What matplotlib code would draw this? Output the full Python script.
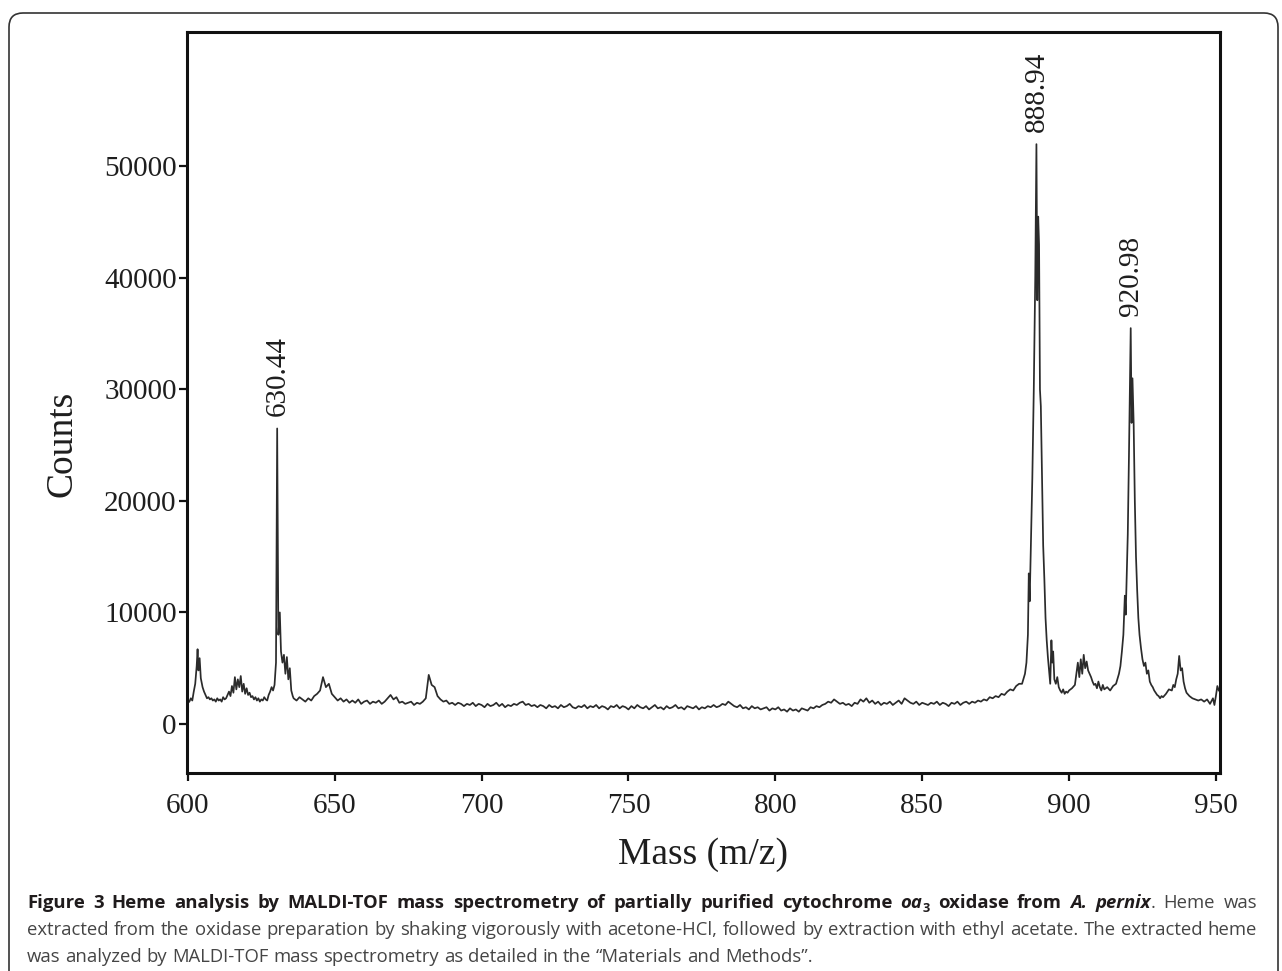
import numpy as np
import matplotlib
matplotlib.use("Agg")
import matplotlib.pyplot as plt
from matplotlib.patches import FancyBboxPatch
from matplotlib.transforms import IdentityTransform

# spectrum, 600 - 636 (peaks at 603, 617, 630.44)
mass_a = [600.0, 600.5, 601.0, 601.5, 602.0, 602.5, 603.0, 603.3, 603.6, 604.0, 604.4,
          605.0, 605.5, 606.0, 606.5, 607.0, 607.5, 608.0, 608.5, 609.0, 609.5,
          610.0, 610.5, 611.0, 611.5, 612.0, 612.5, 613.0, 613.5, 614.0, 614.5,
          615.0, 615.5, 616.0, 616.5, 617.0, 617.5, 618.0, 618.5, 619.0, 619.5,
          620.0, 620.5, 621.0, 621.5, 622.0, 622.5, 623.0, 623.5, 624.0, 624.5,
          625.0, 625.5, 626.0, 626.5, 627.0, 627.5, 628.0, 628.5, 629.0, 629.5,
          630.0, 630.4, 630.8, 631.3, 631.7, 632.2, 632.7, 633.2, 633.7, 634.2,
          634.7, 635.2, 635.7]
counts_a = [1900, 2000, 2300, 2100, 2900, 3600, 5200, 6700, 4800, 5900, 4100,
            3300, 2900, 2600, 2300, 2400, 2200, 2300, 2100, 2200, 2000,
            2300, 2100, 2200, 2000, 2400, 2200, 2300, 2600, 2900, 2500,
            3400, 2800, 4200, 3100, 4000, 3300, 4300, 2900, 3600, 2700,
            3200, 2600, 2800, 2400, 2500, 2200, 2400, 2100, 2300, 2000,
            2200, 2100, 2400, 2200, 2100, 2600, 2900, 3300, 3000, 3500,
            5500, 26500, 8000, 10000, 6500, 5500, 6200, 4500, 6000, 4000,
            5000, 3000, 2500]

# baseline region, one reading per m/z unit from 636 to 883
mass_b = np.arange(636, 884)
counts_b = [2300, 2100, 2400, 2200, 2000, 2300, 2100, 2500, 2700, 3000,
            4200, 3300, 3600, 2700, 2400, 2100, 2300, 2000, 2200, 1900,
            2100, 1900, 2200, 1800, 2000, 2100, 1800, 2000, 1900, 2100,
            1800, 2000, 2300, 2600, 2200, 2400, 1900, 2000, 1800, 1900,
            2000, 1700, 1900, 1800, 2000, 2300, 4400, 3500, 3300, 2500,
            2200, 2000, 2100, 1800, 1900, 1700, 1900, 1800, 1600, 1800,
            1700, 1900, 1600, 1800, 1700, 1500, 1800, 1600, 1700, 1900,
            1600, 1800, 1500, 1700, 1600, 1800, 1700, 1900, 2000, 1700,
            1800, 1600, 1700, 1500, 1700, 1600, 1400, 1700, 1500, 1600,
            1400, 1700, 1500, 1600, 1800, 1500, 1400, 1600, 1500, 1700,
            1400, 1600, 1500, 1700, 1400, 1600, 1500, 1300, 1600, 1500,
            1700, 1400, 1600, 1500, 1300, 1600, 1400, 1700, 1500, 1400,
            1600, 1300, 1500, 1700, 1400, 1500, 1300, 1600, 1400, 1500,
            1700, 1400, 1500, 1300, 1600, 1500, 1400, 1600, 1300, 1500,
            1400, 1600, 1500, 1700, 1500, 1600, 1800, 1700, 2000, 1800,
            1600, 1500, 1700, 1400, 1500, 1300, 1600, 1400, 1500, 1300,
            1400, 1500, 1200, 1400, 1300, 1500, 1200, 1300, 1100, 1400,
            1200, 1300, 1100, 1400, 1300, 1200, 1500, 1400, 1600, 1500,
            1700, 1800, 2000, 1900, 2200, 2000, 1800, 1900, 1700, 1800,
            1600, 1900, 1800, 2200, 2000, 2300, 1900, 2100, 1800, 2000,
            1700, 1900, 1800, 2000, 1700, 1900, 2100, 1800, 2300, 2100,
            1900, 1800, 2000, 1700, 1900, 1800, 1700, 1900, 1800, 2000,
            1700, 1900, 1800, 1600, 1900, 1800, 2000, 1700, 1900, 2000,
            1800, 2000, 1900, 2100, 2000, 2200, 2100, 2400, 2300, 2500,
            2400, 2700, 2600, 2900, 3100, 3000, 3400, 3600]

# 884 - 951 (peaks at 888.94, 905, 920.98, 937)
mass_c = [884.0, 885.0, 885.5, 886.0, 886.3, 886.6, 887.0, 887.5, 888.0, 888.5,
          888.9, 889.2, 889.5, 889.8, 890.1, 890.4, 890.8, 891.2, 891.6, 892.0,
          892.4, 892.8, 893.2, 893.6, 894.0, 894.3, 894.6, 895.0, 895.5, 896.0,
          896.5, 897.0, 897.5, 898.0, 898.5, 899.0, 899.5, 900.0, 901.0, 902.0,
          903.0, 903.5, 904.0, 904.5, 905.0, 905.5, 906.0, 906.5, 907.0, 907.5,
          908.0, 908.5, 909.0, 909.5, 910.0, 910.5, 911.0, 911.5, 912.0, 913.0,
          914.0, 915.0, 916.0, 917.0, 917.5, 918.0, 918.5, 919.0, 919.3, 919.6,
          920.0, 920.4, 920.7, 921.0, 921.3, 921.6, 922.0, 922.4, 922.8, 923.2,
          923.6, 924.0, 924.5, 925.0, 925.5, 926.0, 926.5, 927.0, 927.5, 928.0,
          928.5, 929.0, 929.5, 930.0, 930.5, 931.0, 931.5, 932.0, 933.0, 934.0,
          935.0, 935.5, 936.0, 936.5, 937.0, 937.5, 938.0, 938.5, 939.0, 939.5,
          940.0, 941.0, 942.0, 943.0, 944.0, 945.0, 946.0, 947.0, 948.0, 949.0,
          949.5, 950.0, 950.5, 951.0]
counts_c = [3600, 4500, 5500, 8000, 13500, 11000, 16000, 22000, 30000, 40000,
            52000, 38000, 45500, 43000, 30000, 28500, 22000, 16000, 13000, 9500,
            7500, 6000, 4800, 3600, 7500, 5500, 6500, 4000, 3600, 4200,
            3300, 3000, 2800, 3100, 2700, 2900, 2800, 3000, 3200, 3500,
            5500, 4200, 5800, 4500, 6200, 5000, 5600, 4800, 4500, 4200,
            3800, 3500, 3600, 3200, 3800, 3300, 3000, 3500, 3100, 3300,
            3000, 3400, 3600, 4500, 5200, 6500, 8000, 11500, 9800, 13000,
            17000, 24000, 30000, 35500, 27000, 31000, 27000, 20000, 15000, 12000,
            9500, 8000, 6800, 5800, 5200, 5500, 4500, 4800, 3800, 3500,
            3300, 3000, 2800, 2600, 2500, 2300, 2500, 2400, 2700, 3100,
            3000, 3500, 3300, 4000, 4500, 6100, 4800, 5000, 3800, 3200,
            2800, 2500, 2300, 2200, 2100, 2200, 2000, 2200, 1800, 2300,
            1700, 2500, 3400, 3000]

peak_mass = [630.44, 888.94, 920.98]
peak_counts = [26500, 52000, 35500]
peak_labels = ["630.44", "888.94", "920.98"]

x_ticks = [600, 650, 700, 750, 800, 850, 900, 950]
y_ticks = [0, 10000, 20000, 30000, 40000, 50000]

mass = np.concatenate([mass_a, mass_b, mass_c])
counts = np.concatenate([counts_a, counts_b, counts_c])

W, H = 1282, 971
fig = plt.figure(figsize=(W / 100, H / 100), dpi=100)
fig.patch.set_facecolor("white")

serif = "Liberation Serif"
ink = "#1e1e1e"

ax = fig.add_axes([187 / W, 1 - 773 / H, (1220 - 187) / W, (773 - 32) / H])
ax.plot(mass, counts, color="#2b2b2b", lw=1.25)
ax.set_xlim(599.7, 951.4)
ax.set_ylim(-4400, 62060)
ax.set_xticks(x_ticks)
ax.set_yticks(y_ticks)
for s in ax.spines.values():
    s.set_linewidth(2.2)
    s.set_color("#111111")
ax.tick_params(direction="out", length=5.5, width=1.6, color="#111111",
               labelsize=21, labelcolor=ink)
ax.tick_params(axis="x", pad=9)
ax.tick_params(axis="y", pad=2)
for lab in ax.get_xticklabels() + ax.get_yticklabels():
    lab.set_fontfamily(serif)

for m, c, t in zip(peak_mass, peak_counts, peak_labels):
    ax.annotate(t, (m, c), xytext=(0, 9), textcoords="offset points",
                rotation=90, ha="center", va="bottom", fontsize=21,
                family=serif, color=ink)

fig.text(62 / W, 1 - 444 / H, "Counts", rotation=90, ha="center", va="center",
         fontsize=27, family=serif, color=ink)
fig.text(703 / W, 1 - 855 / H, "Mass (m/z)", ha="center", va="center",
         fontsize=27, family=serif, color=ink)

# rounded frame around figure + caption
frame = FancyBboxPatch((9, -40), 1269, H - 13 + 40,
                       boxstyle="round,pad=0,rounding_size=14",
                       transform=IdentityTransform(), fill=False,
                       lw=1.2, edgecolor="#333333")
fig.patches.append(frame)

# caption, justified line by line
renderer = fig.canvas.get_renderer()
cap_size = 13.3
B = dict(family="Open Sans", weight="bold", size=cap_size, color="#1f1b1c")
BI = dict(B, style="italic")
SUB = dict(B, style="normal", size=cap_size * 0.7, dy=-4)
R = dict(family="Open Sans", size=cap_size, color="#454545")

line1 = [("Figure 3 Heme analysis by MALDI-TOF mass spectrometry of partially purified cytochrome ", B),
         ("oa", BI), ("3", SUB), (" oxidase from ", B), ("A. pernix", BI), (". Heme was", R)]
line2 = [("extracted from the oxidase preparation by shaking vigorously with acetone-HCl, "
          "followed by extraction with ethyl acetate. The extracted heme", R)]
line3 = [("was analyzed by MALDI-TOF mass spectrometry as detailed in the \u201cMaterials and Methods\u201d.", R)]


def text_width(s, props):
    p = {k: v for k, v in props.items() if k != "dy"}
    t = fig.text(0, 0, s, **p)
    w = t.get_window_extent(renderer=renderer).width
    t.remove()
    return w


def draw_line(runs, y_px, justify, x0=27, x1=1257):
    groups = [[]]
    for text, props in runs:
        for i, part in enumerate(text.split(" ")):
            if i > 0:
                groups.append([])
            if part:
                groups[-1].append((part, props))
    groups = [g for g in groups if g]
    widths = [[text_width(p, pr) for p, pr in g] for g in groups]
    total = sum(sum(w) for w in widths)
    if justify:
        gap = (x1 - x0 - total) / (len(groups) - 1)
    else:
        gap = text_width("a a", R) - text_width("aa", R)
    x = x0
    for g, ws in zip(groups, widths):
        for (part, pr), w in zip(g, ws):
            p = {k: v for k, v in pr.items() if k != "dy"}
            dy = pr.get("dy", 0)
            fig.text(x / W, (H - y_px + dy) / H, part, ha="left", va="baseline", **p)
            x += w
        x += gap


draw_line(line1, 908, True)
draw_line(line2, 935, True)
draw_line(line3, 962, False)

fig.savefig("out.png", dpi=100, facecolor="white")
